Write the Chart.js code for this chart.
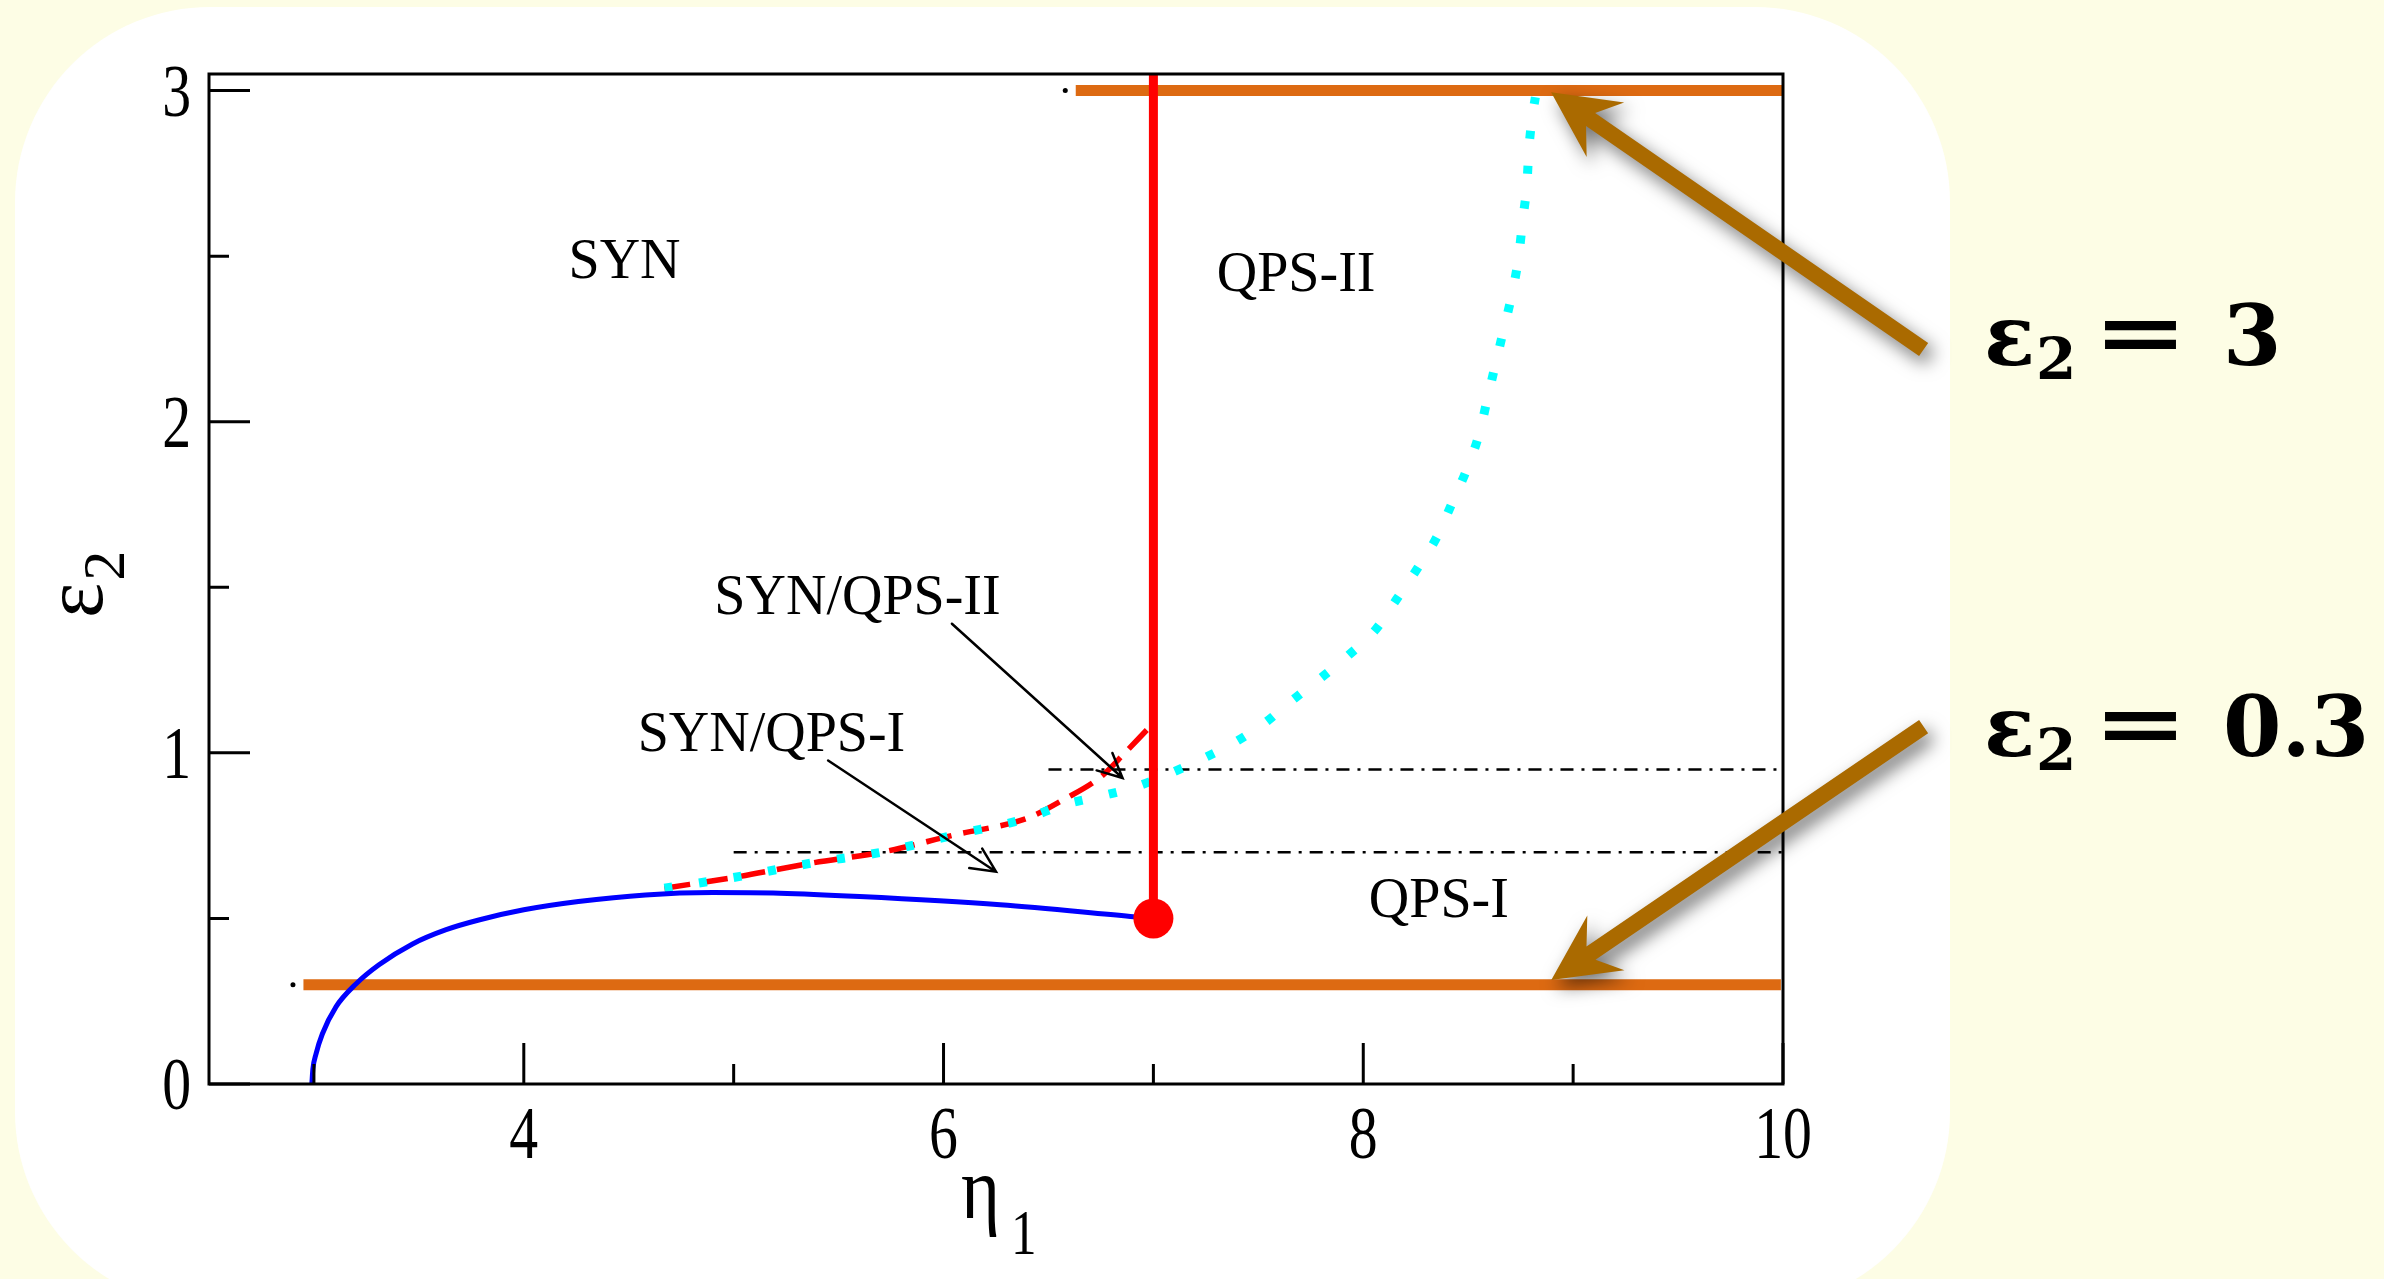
<!DOCTYPE html>
<html>
<head>
<meta charset="utf-8">
<script src="https://cdn.jsdelivr.net/npm/chart.js@4.4.1/dist/chart.umd.min.js"></script>
<style>
html, body { margin: 0; padding: 0; background: #fdfde5; }
#wrap { width: 2384px; height: 1279px; }
</style>
</head>
<body>
<div id="wrap"><canvas id="phase" width="2384" height="1279"></canvas></div>
<script>
// phase diagram in the (eta1, eps2) plane

// axis ticks
const etaTicks = [4, 6, 8, 10];
const etaMinor = [3, 5, 7, 9];
const epsTicks = [0, 1, 2, 3];
const epsMinor = [0.5, 1.5, 2.5];

// blue boundary (solid)
const blueX = [2.99, 2.995, 3.01, 3.04, 3.105, 3.2, 3.31, 3.47, 3.63, 3.79, 4.0, 4.26, 4.58, 4.9, 5.22, 5.6, 6.27, 6.89, 7.0];
const blueY = [0, 0.045, 0.091, 0.151, 0.233, 0.302, 0.36, 0.423, 0.466, 0.496, 0.526, 0.551, 0.571, 0.578, 0.576, 0.566, 0.541, 0.506, 0.5];

// red dashed boundary
const redX = [4.67, 5.03, 5.37, 5.72, 6.05, 6.40, 6.57, 6.75, 6.87, 6.97];
const redY = [0.591, 0.627, 0.667, 0.702, 0.752, 0.803, 0.858, 0.928, 1.004, 1.07];

// cyan dotted boundary
const cyanX = [4.67, 5.03, 5.37, 5.72, 6.05, 6.40, 6.57, 6.74, 6.90, 7.05, 7.22, 7.38, 7.53, 7.66, 7.80, 7.93, 8.06, 8.16, 8.26, 8.35, 8.42, 8.49, 8.55, 8.59, 8.63, 8.67, 8.71, 8.74, 8.76, 8.78, 8.79, 8.81, 8.82];
const cyanY = [0.591, 0.627, 0.667, 0.702, 0.752, 0.803, 0.843, 0.868, 0.894, 0.93, 0.978, 1.029, 1.09, 1.158, 1.227, 1.295, 1.373, 1.465, 1.559, 1.651, 1.75, 1.851, 1.958, 2.065, 2.174, 2.281, 2.39, 2.497, 2.61, 2.72, 2.83, 2.94, 2.98];

// red vertical line and its end point
const critEta = 7.0;
const critEps = 0.5;
const epsTop = 3.05;

// dash-dot reference levels
const dashLevels = [0.7, 0.95];
const dashStart = [5.0, 6.5];
const dashEnd = [10, 10];

// orange eps2 = const lines
const orangeLevels = [0.3, 3.0];
const orangeStart = [2.95, 6.63];
const orangeEnd = [9.99, 10];

// region labels
const regionLabels = ['SYN', 'QPS-II', 'QPS-I', 'SYN/QPS-II', 'SYN/QPS-I'];
const regionX = [4.48, 7.68, 8.36, 5.59, 5.18];
const regionY = [2.477, 2.438, 0.55, 1.465, 1.051];

// thin pointer arrows from the two mixed labels
const pointerFromX = [6.04, 5.45];
const pointerFromY = [1.39, 0.977];
const pointerToX = [6.853, 6.25];
const pointerToY = [0.924, 0.641];

// big brown arrows and their captions
const markerTipX = [8.895, 8.896];
const markerTipY = [2.995, 0.314];
const markerTailX = [10.67, 10.67];
const markerTailY = [2.218, 1.079];
const markerValue = ['3', '0.3'];

const SERIF = '"Liberation Serif", "Times New Roman", serif';

function pts(xs, ys) {
    return xs.map((x, i) => ({x: x, y: ys[i]}));
}

function condensed(ctx, text, x, y, sx, align) {
    ctx.save();
    ctx.translate(x, y);
    ctx.scale(sx, 1);
    ctx.textAlign = align;
    ctx.fillText(text, 0, 0);
    ctx.restore();
}

const backdrop = {
    id: 'backdrop',
    beforeDraw(chart) {
        const ctx = chart.ctx;
        ctx.save();
        ctx.fillStyle = '#fdfde5';
        ctx.fillRect(0, 0, chart.width, chart.height);
        ctx.fillStyle = '#ffffff';
        ctx.beginPath();
        ctx.roundRect(15, 7, 1935, 1300, 195);
        ctx.fill();
        ctx.restore();
    }
};

const decorations = {
    id: 'decorations',
    afterDraw(chart) {
        const ctx = chart.ctx;
        const xs = chart.scales.x, ys = chart.scales.y;
        const a = chart.chartArea;
        ctx.save();

        // frame
        ctx.strokeStyle = '#000';
        ctx.lineWidth = 3;
        ctx.strokeRect(a.left, a.top, a.right - a.left, a.bottom - a.top);

        // inward ticks
        ctx.beginPath();
        etaTicks.concat(etaMinor).forEach(v => {
            const px = xs.getPixelForValue(v);
            const len = etaTicks.includes(v) ? 41 : 20;
            ctx.moveTo(px, a.bottom);
            ctx.lineTo(px, a.bottom - len);
        });
        epsTicks.concat(epsMinor).forEach(v => {
            const py = ys.getPixelForValue(v);
            const len = epsTicks.includes(v) ? 41 : 20;
            ctx.moveTo(a.left, py);
            ctx.lineTo(a.left + len, py);
        });
        ctx.stroke();

        // tick labels
        ctx.fillStyle = '#000';
        ctx.textBaseline = 'alphabetic';
        ctx.font = '74px ' + SERIF;
        etaTicks.forEach(v => {
            condensed(ctx, String(v), xs.getPixelForValue(v), a.bottom + 74, 0.78, 'center');
        });
        epsTicks.forEach(v => {
            condensed(ctx, String(v), a.left - 18, ys.getPixelForValue(v) + 25, 0.78, 'right');
        });

        // axis titles
        ctx.font = '88px ' + SERIF;
        condensed(ctx, '\u03B7', 961, 1218, 0.85, 'left');
        ctx.font = '64px ' + SERIF;
        condensed(ctx, '1', 1011, 1254, 0.8, 'left');

        ctx.save();
        ctx.translate(102, 618);
        ctx.rotate(-Math.PI / 2);
        ctx.font = '84px ' + SERIF;
        ctx.textAlign = 'left';
        ctx.fillText('\u03B5', 0, 0);
        const ew = ctx.measureText('\u03B5').width;
        ctx.font = '60px ' + SERIF;
        ctx.fillText('2', ew + 2, 22);
        ctx.restore();

        // region labels
        ctx.font = '56px ' + SERIF;
        ctx.textAlign = 'center';
        ctx.textBaseline = 'middle';
        regionLabels.forEach((t, i) => {
            ctx.fillText(t, xs.getPixelForValue(regionX[i]), ys.getPixelForValue(regionY[i]));
        });

        // thin pointer arrows
        ctx.lineWidth = 2.5;
        ctx.lineCap = 'round';
        pointerFromX.forEach((fx, i) => {
            const x1 = xs.getPixelForValue(fx), y1 = ys.getPixelForValue(pointerFromY[i]);
            const x2 = xs.getPixelForValue(pointerToX[i]), y2 = ys.getPixelForValue(pointerToY[i]);
            const ang = Math.atan2(y2 - y1, x2 - x1);
            ctx.beginPath();
            ctx.moveTo(x1, y1);
            ctx.lineTo(x2, y2);
            ctx.moveTo(x2 - 27 * Math.cos(ang - 0.45), y2 - 27 * Math.sin(ang - 0.45));
            ctx.lineTo(x2, y2);
            ctx.lineTo(x2 - 27 * Math.cos(ang + 0.45), y2 - 27 * Math.sin(ang + 0.45));
            ctx.stroke();
        });

        // big brown arrows with drop shadow
        markerTipX.forEach((tx, i) => {
            const x2 = xs.getPixelForValue(tx), y2 = ys.getPixelForValue(markerTipY[i]);
            const x1 = xs.getPixelForValue(markerTailX[i]), y1 = ys.getPixelForValue(markerTailY[i]);
            const len = Math.hypot(x1 - x2, y1 - y2);
            const ux = (x1 - x2) / len, uy = (y1 - y2) / len;
            const nx = -uy, ny = ux;
            const L = 66, W = 33, notch = 48;
            ctx.save();
            ctx.shadowColor = 'rgba(0,0,0,0.55)';
            ctx.shadowBlur = 18;
            ctx.shadowOffsetX = 6;
            ctx.shadowOffsetY = 8;
            ctx.fillStyle = '#aa6a00';
            ctx.beginPath();
            ctx.moveTo(x2, y2);
            ctx.lineTo(x2 + ux * L + nx * W, y2 + uy * L + ny * W);
            ctx.lineTo(x2 + ux * notch + nx * 8, y2 + uy * notch + ny * 8);
            ctx.lineTo(x1 + nx * 8, y1 + ny * 8);
            ctx.lineTo(x1 - nx * 8, y1 - ny * 8);
            ctx.lineTo(x2 + ux * notch - nx * 8, y2 + uy * notch - ny * 8);
            ctx.lineTo(x2 + ux * L - nx * W, y2 + uy * L - ny * W);
            ctx.closePath();
            ctx.fill();
            ctx.restore();
        });

        // captions eps2 = value
        const capBase = [365, 756];
        ctx.fillStyle = '#000';
        ctx.textAlign = 'left';
        ctx.textBaseline = 'alphabetic';
        markerValue.forEach((v, i) => {
            const b = capBase[i];
            ctx.font = 'bold 84px "DejaVu Serif", serif';
            ctx.fillText('\u03B5', 1984, b);
            ctx.font = 'bold 58px "DejaVu Serif", serif';
            ctx.fillText('2', 2036, b + 14);
            ctx.font = 'bold 84px "DejaVu Serif", serif';
            condensed(ctx, '=', 2093, b - 4, 1.35, 'left');
            ctx.fillText(v, 2223, b);
        });

        ctx.restore();
    }
};

const datasets = [];
orangeLevels.forEach((lv, i) => {
    datasets.push({
        data: [{x: orangeStart[i], y: lv}, {x: orangeEnd[i], y: lv}],
        borderColor: '#dd6a12', borderWidth: 11, borderCapStyle: 'butt', order: 10
    });
});
datasets.push({
    data: [{x: 2.9, y: 0.3}, {x: 6.58, y: 3.0}],
    showLine: false, pointRadius: 2.5, pointBackgroundColor: '#000', pointBorderWidth: 0, order: 10
});
dashLevels.forEach((lv, i) => {
    datasets.push({
        data: [{x: dashStart[i], y: lv}, {x: dashEnd[i], y: lv}],
        borderColor: '#000', borderWidth: 2.5, borderDash: [13, 8, 3, 8], order: 9
    });
});
datasets.push({
    data: pts(redX, redY), borderColor: '#ff0000', borderWidth: 5.5,
    borderDash: [26, 12], cubicInterpolationMode: 'monotone', order: 7
});
datasets.push({
    data: pts(cyanX, cyanY), borderColor: '#00ffff', borderWidth: 9,
    borderDash: [8, 27], borderCapStyle: 'butt', cubicInterpolationMode: 'monotone', order: 6
});
datasets.push({
    data: pts(blueX, blueY), borderColor: '#0000ff', borderWidth: 5,
    cubicInterpolationMode: 'monotone', order: 5
});
datasets.push({
    data: [{x: critEta, y: critEps}, {x: critEta, y: epsTop}],
    borderColor: '#ff0000', borderWidth: 9, order: 4
});
datasets.push({
    data: [{x: critEta, y: critEps}], showLine: false,
    pointRadius: 20, pointBackgroundColor: '#ff0000', pointBorderWidth: 0, order: 3
});
datasets.forEach(d => {
    if (d.pointRadius === undefined) d.pointRadius = 0;
    if (d.showLine === undefined) d.showLine = true;
    d.fill = false;
});

new Chart(document.getElementById('phase').getContext('2d'), {
    type: 'scatter',
    data: {datasets: datasets},
    options: {
        responsive: false,
        animation: false,
        events: [],
        layout: {padding: {left: 209, right: 601, top: 74, bottom: 195}},
        plugins: {legend: {display: false}, tooltip: {enabled: false}},
        scales: {
            x: {
                type: 'linear', min: 2.5, max: 10,
                grid: {display: false}, border: {display: false}, ticks: {display: false},
                afterFit(s) { s.height = 0; }
            },
            y: {
                type: 'linear', min: 0, max: epsTop,
                grid: {display: false}, border: {display: false}, ticks: {display: false},
                afterFit(s) { s.width = 0; }
            }
        }
    },
    plugins: [backdrop, decorations]
});
</script>
</body>
</html>
